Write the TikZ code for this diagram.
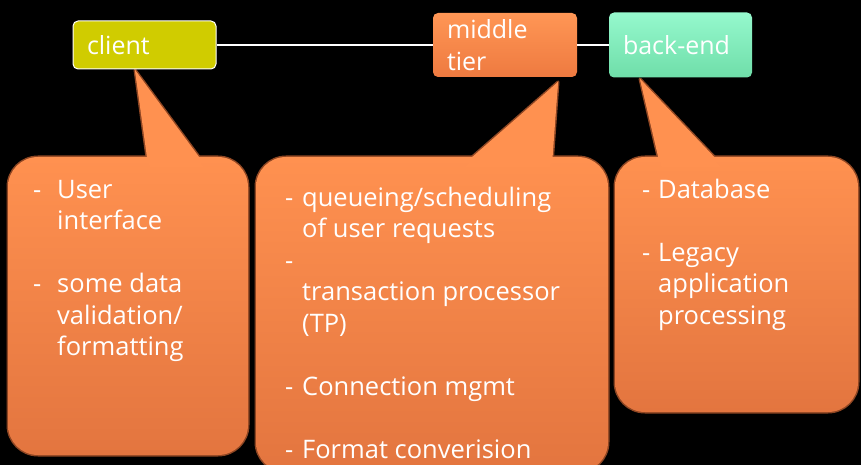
\documentclass[tikz,border=0pt]{standalone}
\usepackage{fontspec}
\setmainfont{Open Sans}
\definecolor{clientfill}{HTML}{D0CC00}
\definecolor{midtop}{HTML}{FF9655}
\definecolor{midbot}{HTML}{EE7A40}
\definecolor{backtop}{HTML}{95F8CD}
\definecolor{backbot}{HTML}{6FDEA9}
\definecolor{calltop}{HTML}{FF9150}
\definecolor{callbot}{HTML}{E3753F}
\definecolor{calledge}{HTML}{8E4623}

% speech bubble: body (#1,#2)-(#3,#4), pointer base from #5 to #6 on the top edge, tip (#7,#8)
\newcommand\drawbubble[8]{%
  \path[bubbleedge] (#5,{#2+8}) -- (#7,#8) -- (#6,{#2+8});
  \path[bubbleedge, rounded corners=30pt] (#1,#2) rectangle (#3,#4);
  \path[fill=calltop] (#5,{#2+8}) -- (#7,#8) -- (#6,{#2+8}) -- cycle;
  \path[bubblefill, rounded corners=30pt] (#1,#2) rectangle (#3,#4);
  \path[fill=calltop] ({#5+1.5},{#2+10}) -- (#7,#8) -- ({#6-1.5},{#2+10}) -- cycle;}

\begin{document}
\begin{tikzpicture}[x=1pt,y=-1pt,
  topbox/.style={rounded corners=5pt, inner xsep=14pt, inner ysep=0pt, align=left,
    text=white, font=\fontsize{25}{32}\selectfont},
  bubbleedge/.style={draw=calledge, line width=3pt, line join=round},
  bubblefill/.style={top color=calltop, bottom color=callbot},
  bubbletext/.style={anchor=base west, inner sep=0pt, text=white,
    font=\fontsize{25.5}{31.5}\selectfont},
  link/.style={draw=white, line width=1.2pt}]

% background
\fill[black] (0,0) rectangle (861,465);
\useasboundingbox (0,0) rectangle (861,465);

% callout bubbles
\drawbubble{8}{157}{248}{455}{148}{205}{135}{70}
\drawbubble{256}{157}{608}{472}{463}{552}{558}{82}
\drawbubble{615}{157}{858}{412}{660}{722}{640}{79}

% tiers
\node[topbox, fill=clientfill, draw=white, line width=1pt,
      minimum width=143pt, minimum height=48pt, text width=115pt]
      (client) at (144.5,45) {client};
\node[topbox, top color=midtop, bottom color=midbot,
      minimum width=144pt, minimum height=64pt, text width=116pt]
      (middle) at (505,45) {middle\\tier};
\node[topbox, top color=backtop, bottom color=backbot,
      minimum width=143pt, minimum height=65pt, text width=115pt]
      (backend) at (680.5,45) {back-end};

\draw[link] (client.east) -- (middle.west);
\draw[link] (middle.east) -- (backend.west);

% bubble contents
\node[bubbletext] (clienttext) at (33,198) {%
  \begin{tabular}[t]{@{}l@{}l@{}}
  \makebox[24pt][l]{-} & User\\
   & interface\\
   & \\
  - & some data\\
   & validation/\\
   & formatting
  \end{tabular}};

\node[bubbletext] (middletext) at (285,206) {%
  \begin{tabular}[t]{@{}l@{}l@{}}
  \makebox[17pt][l]{-} & queueing/scheduling\\
   & of user requests\\
  - & \\
   & transaction processor\\
   & (TP)\\
   & \\
  - & Connection mgmt\\
   & \\
  - & Format converision
  \end{tabular}};

\node[bubbletext] (backendtext) at (642,198) {%
  \begin{tabular}[t]{@{}l@{}l@{}}
  \makebox[16pt][l]{-} & Database\\
   & \\
  - & Legacy\\
   & application\\
   & processing
  \end{tabular}};
\end{tikzpicture}
\end{document}
